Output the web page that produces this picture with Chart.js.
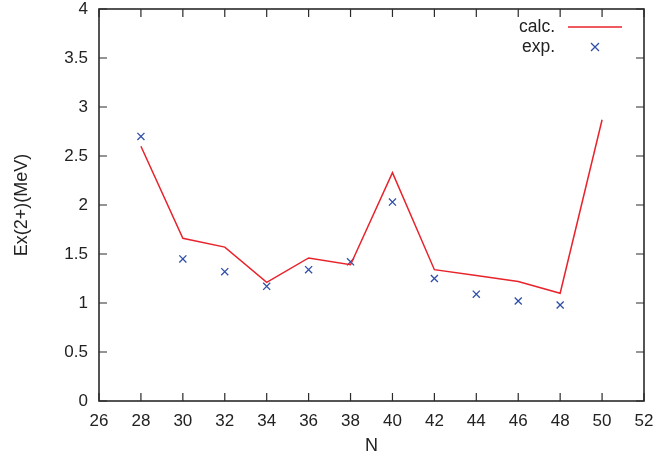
<!DOCTYPE html>
<html>
<head>
<meta charset="utf-8">
<script src="https://cdn.jsdelivr.net/npm/chart.js@4/dist/chart.umd.min.js"></script>
<style>
  html, body { margin: 0; padding: 0; background: #fff; }
</style>
</head>
<body>
<canvas id="chart" width="658" height="461"></canvas>
<script>
// neutron number N and 2+ excitation energies (MeV)
const calcN = [28, 30, 32, 34, 36, 38, 40, 42, 44, 46, 48, 50];
const calcE = [2.60, 1.66, 1.57, 1.21, 1.46, 1.39, 2.33, 1.34, 1.28, 1.22, 1.10, 2.87];
const expN = [28, 30, 32, 34, 36, 38, 40, 42, 44, 46, 48];
const expE = [2.70, 1.45, 1.32, 1.17, 1.34, 1.42, 2.03, 1.25, 1.09, 1.02, 0.98];
const seriesLabels = ['calc.', 'exp.'];

const FONT = "'Liberation Sans', Arial, Helvetica, sans-serif";
const TEXT = '#222';
const RED = '#e8232b';
const BLUE = '#2f4fa8';

// gnuplot style frame with inward (mirrored) ticks
const framePlugin = {
  id: 'frame',
  afterDatasetsDraw(chart){
    const {ctx, chartArea: a, scales} = chart;
    const tl = 8;
    ctx.save();
    ctx.strokeStyle = '#2a2a2a';
    ctx.lineWidth = 1.6;
    ctx.strokeRect(a.left, a.top, a.right - a.left, a.bottom - a.top);
    ctx.lineWidth = 1.2;
    ctx.beginPath();
    scales.x.ticks.forEach(t =>{
      const px = scales.x.getPixelForValue(t.value);
      ctx.moveTo(px, a.bottom); ctx.lineTo(px, a.bottom - tl);
      ctx.moveTo(px, a.top); ctx.lineTo(px, a.top + tl);
    });
    scales.y.ticks.forEach(t =>{
      const py = scales.y.getPixelForValue(t.value);
      ctx.moveTo(a.left, py); ctx.lineTo(a.left + tl, py);
      ctx.moveTo(a.right, py); ctx.lineTo(a.right - tl, py);
    });
    ctx.stroke();
    ctx.restore();
  }
};

// key in the top right corner: text right aligned, sample on the right
const keyPlugin = {
  id: 'key',
  afterDraw(chart){
    const {ctx, chartArea: a} = chart;
    const ds = chart.data.datasets;
    const textX = a.right - 89;
    const x0 = a.right - 76, x1 = a.right - 22;
    const rows = [a.top + 18, a.top + 38];
    ctx.save();
    ctx.font = '17.5px ' + FONT;
    ctx.fillStyle = TEXT;
    ctx.textAlign = 'right';
    ctx.textBaseline = 'middle';
    ds.forEach((d, i) => ctx.fillText(d.label, textX, rows[i]));
    ctx.strokeStyle = ds[0].borderColor;
    ctx.lineWidth = ds[0].borderWidth;
    ctx.beginPath(); ctx.moveTo(x0, rows[0]); ctx.lineTo(x1, rows[0]); ctx.stroke();
    const cx = (x0 + x1) / 2, r = 4;
    ctx.strokeStyle = ds[1].borderColor;
    ctx.lineWidth = ds[1].borderWidth;
    ctx.beginPath();
    ctx.moveTo(cx - r, rows[1] - r); ctx.lineTo(cx + r, rows[1] + r);
    ctx.moveTo(cx + r, rows[1] - r); ctx.lineTo(cx - r, rows[1] + r);
    ctx.stroke();
    ctx.restore();
  }
};

new Chart(document.getElementById('chart'), {
  type: 'scatter',
  data: {
    datasets: [
      {
        label: seriesLabels[0],
        data: calcN.map((n, i) => ({x: n, y: calcE[i]})),
        showLine: true,
        borderColor: RED,
        borderWidth: 1.5,
        pointRadius: 0,
        pointHoverRadius: 0,
        fill: false
      },
      {
        label: seriesLabels[1],
        data: expN.map((n, i) => ({x: n, y: expE[i]})),
        showLine: false,
        pointStyle: 'crossRot',
        pointRadius: 5,
        borderColor: BLUE,
        backgroundColor: BLUE,
        borderWidth: 1.3
      }
    ]
  },
  options: {
    responsive: false,
    devicePixelRatio: 1,
    animation: false,
    layout: { padding: { top: 9, right: 14, left: 0, bottom: 0 } },
    plugins: { legend: { display: false }, tooltip: { enabled: false } },
    scales: {
      x: {
        type: 'linear', min: 26, max: 52,
        grid: { display: false, drawTicks: false },
        border: { display: false },
        ticks: { stepSize: 2, color: TEXT, font: { family: FONT, size: 17 }, padding: 10, maxRotation: 0 },
        title: { display: true, text: 'N', color: TEXT, font: { family: FONT, size: 18 }, padding: { top: 0, bottom: 4 } },
        afterFit(s){ s.height = 60; s.paddingLeft = 0; s.paddingRight = 0; }
      },
      y: {
        min: 0, max: 4,
        grid: { display: false, drawTicks: false },
        border: { display: false },
        ticks: { stepSize: 0.5, color: TEXT, font: { family: FONT, size: 17 }, padding: 11, callback: v => String(v) },
        title: { display: true, text: 'Ex(2+)(MeV)', color: TEXT, font: { family: FONT, size: 18 }, padding: { top: 11, bottom: 0 } },
        afterFit(s){ s.width = 99; s.paddingTop = 0; s.paddingBottom = 0; }
      }
    }
  },
  plugins: [framePlugin, keyPlugin]
});
</script>
</body>
</html>
